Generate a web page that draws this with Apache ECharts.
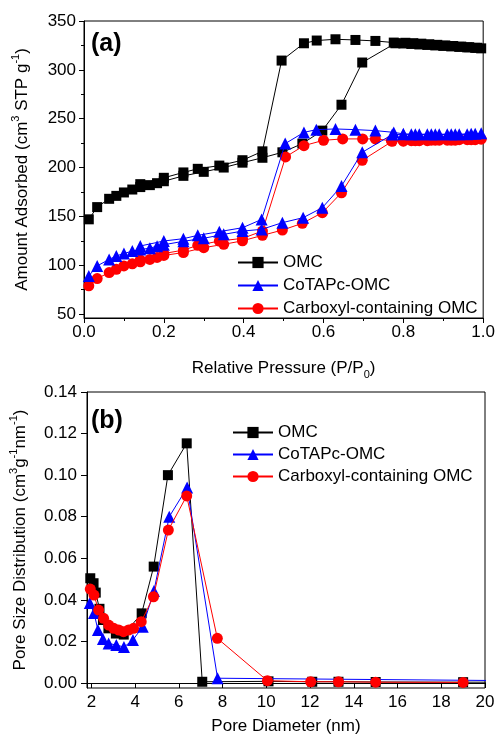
<!DOCTYPE html>
<html>
<head>
<meta charset="utf-8">
<script src="https://cdn.jsdelivr.net/npm/echarts@6/dist/echarts.min.js"></script>
<style>
html,body{margin:0;padding:0;background:#fff;}
#c{width:498px;height:744px;}
</style>
</head>
<body>
<div id="c"></div>
<script>
// ---------- Panel (a): N2 isotherms (adsorption then desorption) ----------
const omcP = [0.012,0.033,0.063,0.081,0.10,0.121,0.141,0.165,0.183,0.20,0.249,0.30,0.35,0.397,0.447,0.497,0.547,0.597,0.645,0.697,0.78,0.80,0.82,0.84,0.86,0.88,0.90,0.92,0.94,0.96,0.98,0.995,
              0.985,0.965,0.945,0.925,0.905,0.885,0.865,0.845,0.825,0.805,0.776,0.73,0.68,0.63,0.583,0.551,0.495,0.447,0.397,0.339,0.285,0.249,0.20,0.141];
const omcV = [147,159.5,168,171,174.5,177.5,180,182,184,186,191.5,195.6,200,205,210,215.6,224.5,237.8,264.3,307.5,327.2,327,326.5,326,325.5,325,324.5,324,323.5,323,322.5,322,
              322.6,323.2,323.8,324.4,325,325.6,326.2,326.8,327.3,327.7,327.9,329.6,330.6,331.3,330,327.2,309.5,216.6,207.5,202,198.7,195,189.5,183];

const cotP = [0.012,0.033,0.063,0.081,0.10,0.121,0.141,0.165,0.183,0.20,0.249,0.30,0.35,0.397,0.445,0.497,0.549,0.597,0.645,0.697,0.772,0.80,0.83,0.86,0.88,0.91,0.93,0.96,0.98,0.995,
              0.97,0.94,0.92,0.89,0.87,0.84,0.82,0.80,0.776,0.73,0.68,0.63,0.582,0.551,0.504,0.445,0.397,0.339,0.285,0.249,0.20,0.141];
const cotV = [89,99.3,106,109.5,112,114.5,116,117.5,119.5,121,124.5,127.6,131.6,135,136.7,143.6,148.7,158.9,181,215.6,233.7,234,234,234,234,234,234,234,234.5,235,
              234.5,234,234,234,234,234,234,234.5,236,237.8,238.8,239.5,238.8,236,224.5,146.9,138.4,134.4,130.6,127.2,124.8,119.7];

const carP = [0.012,0.033,0.063,0.081,0.10,0.121,0.141,0.165,0.183,0.20,0.249,0.30,0.35,0.397,0.447,0.497,0.547,0.597,0.645,0.697,0.772,0.80,0.83,0.86,0.88,0.91,0.93,0.96,0.98,0.995,
              0.97,0.94,0.92,0.89,0.87,0.84,0.82,0.80,0.77,0.73,0.698,0.648,0.60,0.551,0.505,0.447,0.397,0.339,0.285,0.249,0.20,0.141];
const carV = [78.9,86.4,92.5,95.9,99.3,101.5,103.5,106,108,110,113,118,121.4,125,130.6,136,142.9,153.8,174.2,207.4,226.8,227,227.5,227.5,228,228,228,228.5,228.5,229,
              228.5,228.5,228,228,228,227.5,227.5,227.5,227.5,229.3,229.3,229.3,227.9,222.4,210.9,135,127.5,124.8,120.4,115.5,112,105.4];

// ---------- Panel (b): pore size distribution ----------
const omcD   = [1.95,2.1,2.2,2.37,2.53,2.78,3.12,3.48,4.3,4.85,5.5,6.36,7.07,10.1,12.1,13.3,15.0,19.0,25];
const omcPSD = [0.0504,0.048,0.0435,0.0357,0.0303,0.0263,0.0238,0.0233,0.0335,0.056,0.100,0.1153,0.0006,0.0008,0.0006,0.0006,0.0005,0.0004,0.0004];

const cotD   = [1.93,2.12,2.3,2.53,2.79,3.14,3.49,3.9,4.35,4.86,5.56,6.38,7.77,25];
const cotPSD = [0.0385,0.0337,0.0255,0.0212,0.0190,0.0183,0.0173,0.0207,0.0271,0.0443,0.080,0.094,0.0023,0.0008];

const carD   = [1.95,2.12,2.33,2.56,2.79,3.02,3.25,3.47,3.7,3.93,4.28,4.84,5.52,6.36,7.76,10.05,12.03,13.3,15.0,19.0];
const carPSD = [0.0452,0.0423,0.0351,0.0311,0.0279,0.0263,0.0255,0.0247,0.0255,0.0263,0.0295,0.0415,0.0736,0.090,0.0215,0.0011,0.0006,0.0006,0.0004,0.0003];

// ---------- Tick labels ----------
const xTicksA = [0,0.2,0.4,0.6,0.8,1.0];
const xMinorA = [0.1,0.3,0.5,0.7,0.9];
const yTicksA = [50,100,150,200,250,300,350];
const yMinorA = [75,125,175,225,275,325];
const xTicksB = [2,4,6,8,10,12,14,16,18,20];
const yTicksB = [0,0.02,0.04,0.06,0.08,0.10,0.12,0.14];

const names = ['OMC','CoTAPc-OMC','Carboxyl-containing OMC'];
const FONT = 'Liberation Sans, Arial, sans-serif';
const BLK = '#000';

const zip = (a,b) => a.map((v,i)=>[v,b[i]]);

function mainAxis(grid, min, max, ticks, fmt, extra) {
  return Object.assign({
    gridIndex: grid, type: 'value', min: min, max: max,
    axisLine: {show: true, lineStyle: {color: BLK, width: 1}},
    axisTick: {show: true, length: 5, inside: false, customValues: ticks, lineStyle: {color: BLK, width: 1}},
    axisLabel: {show: true, customValues: ticks, formatter: fmt, color: BLK, fontSize: 17, fontFamily: FONT},
    splitLine: {show: false}
  }, extra);
}
function minorAxis(grid, min, max, ticks, pos) {
  return {
    gridIndex: grid, type: 'value', min: min, max: max, position: pos,
    axisLine: {show: false},
    axisTick: {show: true, length: 3, customValues: ticks, lineStyle: {color: BLK, width: 1}},
    axisLabel: {show: false},
    splitLine: {show: false}
  };
}
const richBase = {
  t:   {fontSize: 17, fontFamily: FONT, color: BLK, lineHeight: 24},
  sup: {fontSize: 11, fontFamily: FONT, color: BLK, lineHeight: 11, verticalAlign: 'top'},
  sub: {fontSize: 11, fontFamily: FONT, color: BLK, lineHeight: 11, verticalAlign: 'bottom'}
};

function lineSeries(name, data, xi, yi, symbol, size, color, z) {
  return {
    name: name, type: 'line', xAxisIndex: xi, yAxisIndex: yi, data: data,
    symbol: symbol, symbolSize: size, showSymbol: true, z: z,
    lineStyle: {color: color, width: 1}, itemStyle: {color: color},
    emphasis: {disabled: true}, animation: false, clip: true
  };
}

const option = {
  backgroundColor: '#fff',
  animation: false,
  grid: [
    {left: 84, top: 21, right: 13, height: 297, show: true, borderColor: BLK, borderWidth: 1, backgroundColor: 'transparent'},
    {left: 86, top: 392, right: 13, height: 296, show: true, borderColor: BLK, borderWidth: 1, backgroundColor: 'transparent'}
  ],
  xAxis: [
    mainAxis(0, 0, 1, xTicksA, v => v.toFixed(1), {
      position: 'bottom', axisLabel: {show: true, customValues: xTicksA, formatter: v => v.toFixed(1), color: BLK, fontSize: 17, fontFamily: FONT, margin: 6},
      name: '{t|Relative Pressure (P/P}{sub|0}{t|)}', nameLocation: 'middle', nameGap: 38,
      nameTextStyle: {rich: richBase}
    }),
    minorAxis(0, 0, 1, xMinorA, 'bottom'),
    mainAxis(1, 1.8, 20, xTicksB, v => String(v), {
      position: 'bottom', axisLabel: {show: true, customValues: xTicksB, formatter: v => String(v), color: BLK, fontSize: 17, fontFamily: FONT, margin: 6},
      name: 'Pore Diameter (nm)', nameLocation: 'middle', nameGap: 30,
      nameTextStyle: {fontSize: 17, fontFamily: FONT, color: BLK}
    })
  ],
  yAxis: [
    mainAxis(0, 46, 350, yTicksA, v => String(v), {
      position: 'left', axisLabel: {show: true, customValues: yTicksA, formatter: v => String(v), color: BLK, fontSize: 17, fontFamily: FONT, margin: 8},
      name: '{t|Amount Adsorbed (cm}{sup|3}{t| STP g}{sup|-1}{t|)}', nameLocation: 'middle', nameGap: 50,
      nameTextStyle: {rich: richBase}
    }),
    minorAxis(0, 46, 350, yMinorA, 'left'),
    mainAxis(1, -0.0024, 0.14, yTicksB, v => v.toFixed(2), {
      position: 'left', axisTick: {show: true, length: 6, customValues: yTicksB, lineStyle: {color: BLK, width: 1}},
      axisLabel: {show: true, customValues: yTicksB, formatter: v => v.toFixed(2), color: BLK, fontSize: 17, fontFamily: FONT, margin: 10},
      name: '{t|Pore Size Distribution (cm}{sup|3}{t|g}{sup|-1}{t|nm}{sup|-1}{t|)}', nameLocation: 'middle', nameGap: 55,
      nameTextStyle: {rich: richBase}
    })
  ],
  legend: [
    {data: names, orient: 'vertical', left: 232, top: 249, itemWidth: 40, itemHeight: 14, itemGap: 6,
     textStyle: {fontSize: 17, fontFamily: FONT, color: BLK}, selectedMode: false, inactiveColor: '#000'},
    {data: names, orient: 'vertical', left: 227, top: 419, itemWidth: 40, itemHeight: 14, itemGap: 5,
     textStyle: {fontSize: 17, fontFamily: FONT, color: BLK}, selectedMode: false}
  ],
  graphic: [
    {type: 'text', left: 91, top: 32, style: {text: '(a)', font: 'bold 25px ' + FONT, fill: BLK}},
    {type: 'text', left: 91, top: 409, style: {text: '(b)', font: 'bold 25px ' + FONT, fill: BLK}}
  ],
  series: [
    lineSeries(names[0], zip(omcP, omcV), 0, 0, 'rect', 10, '#000000', 2),
    lineSeries(names[2], zip(carP, carV), 0, 0, 'circle', 11, '#ff0000', 3),
    lineSeries(names[1], zip(cotP, cotV), 0, 0, 'triangle', 12, '#0000ff', 4),
    lineSeries(names[0], zip(omcD, omcPSD), 2, 2, 'rect', 10, '#000000', 2),
    lineSeries(names[1], zip(cotD, cotPSD), 2, 2, 'triangle', 12, '#0000ff', 3),
    lineSeries(names[2], zip(carD, carPSD), 2, 2, 'circle', 11, '#ff0000', 4)
  ]
};

const chart = echarts.init(document.getElementById('c'), null, {renderer: 'canvas'});
chart.setOption(option);
</script>
</body>
</html>
